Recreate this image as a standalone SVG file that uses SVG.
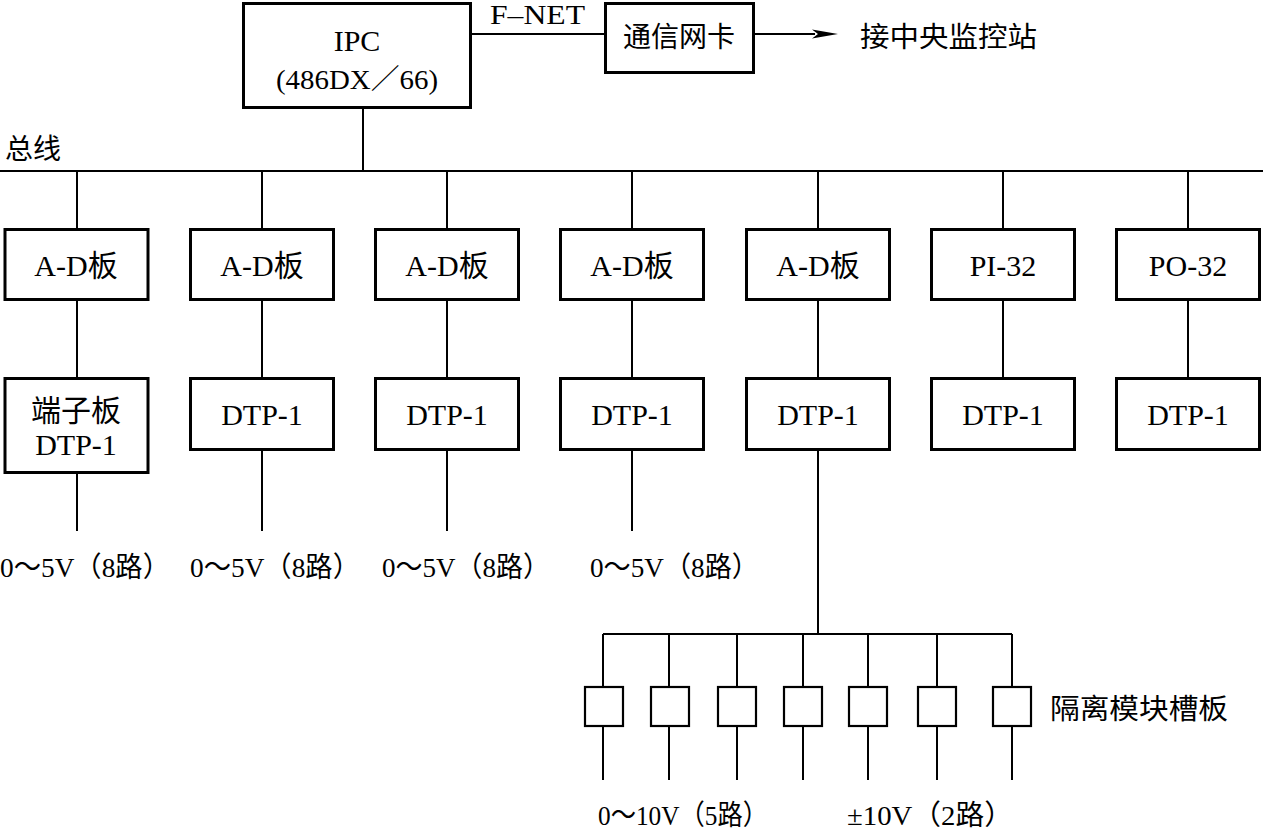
<svg xmlns="http://www.w3.org/2000/svg" width="1263" height="829" viewBox="0 0 1263 829">
<style>
  .box { fill: #fff; stroke: #000; stroke-width: 3; }
  .sbox { fill: #fff; stroke: #000; stroke-width: 2.2; }
  .ln { stroke: #000; stroke-width: 2; fill: none; }
  text { font-family: "Liberation Serif", "Noto Sans CJK SC", serif; font-size: 28px; fill: #000; }
  .c { text-anchor: middle; }
  .b { font-size: 30px; }
</style>
<rect width="1263" height="829" fill="#fff"/>
<g id="connectors">
  <line class="ln" x1="471" y1="34" x2="605" y2="34"/>
  <line class="ln" x1="754" y1="34" x2="815" y2="34"/>
  <polygon points="838,34 812,29.5 818,34 812,38.5" fill="#000"/>
  <line class="ln" x1="363" y1="108" x2="363" y2="171"/>
  <line class="ln" x1="0" y1="171" x2="1263" y2="171"/>
  <line class="ln" x1="77" y1="171" x2="77" y2="229"/>
  <line class="ln" x1="262" y1="171" x2="262" y2="229"/>
  <line class="ln" x1="447" y1="171" x2="447" y2="229"/>
  <line class="ln" x1="632" y1="171" x2="632" y2="229"/>
  <line class="ln" x1="818" y1="171" x2="818" y2="229"/>
  <line class="ln" x1="1003" y1="171" x2="1003" y2="229"/>
  <line class="ln" x1="1188" y1="171" x2="1188" y2="229"/>
  <line class="ln" x1="77" y1="300" x2="77" y2="378"/>
  <line class="ln" x1="262" y1="300" x2="262" y2="378"/>
  <line class="ln" x1="447" y1="300" x2="447" y2="378"/>
  <line class="ln" x1="632" y1="300" x2="632" y2="378"/>
  <line class="ln" x1="818" y1="300" x2="818" y2="378"/>
  <line class="ln" x1="1003" y1="300" x2="1003" y2="378"/>
  <line class="ln" x1="1188" y1="300" x2="1188" y2="378"/>
  <line class="ln" x1="77" y1="473" x2="77" y2="531"/>
  <line class="ln" x1="262" y1="450" x2="262" y2="531"/>
  <line class="ln" x1="447" y1="450" x2="447" y2="531"/>
  <line class="ln" x1="632" y1="450" x2="632" y2="531"/>
  <line class="ln" x1="818" y1="450" x2="818" y2="634"/>
  <line class="ln" x1="603" y1="634" x2="1012" y2="634"/>
  <line class="ln" x1="603" y1="634" x2="603" y2="780"/>
  <line class="ln" x1="669" y1="634" x2="669" y2="780"/>
  <line class="ln" x1="737" y1="634" x2="737" y2="780"/>
  <line class="ln" x1="803" y1="634" x2="803" y2="780"/>
  <line class="ln" x1="868" y1="634" x2="868" y2="780"/>
  <line class="ln" x1="937" y1="634" x2="937" y2="780"/>
  <line class="ln" x1="1012" y1="634" x2="1012" y2="780"/>
</g>
<g id="ipc">
  <rect class="box" x="243.5" y="3.5" width="227" height="104"/>
  <text class="c b" x="357" y="51">IPC</text>
  <text class="c" x="357" y="89" textLength="162" lengthAdjust="spacingAndGlyphs" font-size="29">(486DX／66)</text>
</g>
<g id="fnet-label"><text x="490" y="24" textLength="95" lengthAdjust="spacingAndGlyphs">F–NET</text></g>
<g id="netcard">
  <rect class="box" x="605.5" y="3.5" width="148" height="69"/>
  <text class="c" x="679" y="47">通信网卡</text>
</g>
<g id="central-label"><text x="860" y="47" textLength="177" lengthAdjust="spacingAndGlyphs">接中央监控站</text></g>
<g id="bus-label"><text x="5" y="159" font-size="29">总线</text></g>
<g id="ad1"><rect class="box" x="5" y="229.5" width="143" height="70"/><text class="c b" x="76" y="276">A-D板</text></g>
<g id="ad2"><rect class="box" x="190.5" y="229.5" width="143" height="70"/><text class="c b" x="262" y="276">A-D板</text></g>
<g id="ad3"><rect class="box" x="375.5" y="229.5" width="143" height="70"/><text class="c b" x="447" y="276">A-D板</text></g>
<g id="ad4"><rect class="box" x="560.5" y="229.5" width="143" height="70"/><text class="c b" x="632" y="276">A-D板</text></g>
<g id="ad5"><rect class="box" x="746.5" y="229.5" width="143" height="70"/><text class="c b" x="818" y="276">A-D板</text></g>
<g id="pi32"><rect class="box" x="931.5" y="229.5" width="143" height="70"/><text class="c b" x="1003" y="276">PI-32</text></g>
<g id="po32"><rect class="box" x="1116.5" y="229.5" width="143" height="70"/><text class="c b" x="1188" y="276">PO-32</text></g>
<g id="dtp1"><rect class="box" x="5" y="378.5" width="143" height="94"/><text class="c b" x="76" y="421">端子板</text><text class="c b" x="76" y="455">DTP-1</text></g>
<g id="dtp2"><rect class="box" x="190.5" y="378.5" width="143" height="71"/><text class="c b" x="262" y="425">DTP-1</text></g>
<g id="dtp3"><rect class="box" x="375.5" y="378.5" width="143" height="71"/><text class="c b" x="447" y="425">DTP-1</text></g>
<g id="dtp4"><rect class="box" x="560.5" y="378.5" width="143" height="71"/><text class="c b" x="632" y="425">DTP-1</text></g>
<g id="dtp5"><rect class="box" x="746.5" y="378.5" width="143" height="71"/><text class="c b" x="818" y="425">DTP-1</text></g>
<g id="dtp6"><rect class="box" x="931.5" y="378.5" width="143" height="71"/><text class="c b" x="1003" y="425">DTP-1</text></g>
<g id="dtp7"><rect class="box" x="1116.5" y="378.5" width="143" height="71"/><text class="c b" x="1188" y="425">DTP-1</text></g>
<g id="out-labels">
  <text x="0" y="577" textLength="170" lengthAdjust="spacingAndGlyphs">0～5V（8路）</text>
  <text x="190" y="577" textLength="170" lengthAdjust="spacingAndGlyphs">0～5V（8路）</text>
  <text x="382" y="577" textLength="168" lengthAdjust="spacingAndGlyphs">0～5V（8路）</text>
  <text x="590" y="577" textLength="169" lengthAdjust="spacingAndGlyphs">0～5V（8路）</text>
</g>
<g id="iso-modules">
  <rect class="sbox" x="585" y="687" width="38" height="39"/>
  <rect class="sbox" x="651" y="687" width="38" height="39"/>
  <rect class="sbox" x="718" y="687" width="38" height="39"/>
  <rect class="sbox" x="784" y="687" width="38" height="39"/>
  <rect class="sbox" x="849" y="687" width="38" height="39"/>
  <rect class="sbox" x="918" y="687" width="38" height="39"/>
  <rect class="sbox" x="993" y="687" width="38" height="39"/>
</g>
<g id="iso-label"><text x="1050" y="719" textLength="178" lengthAdjust="spacingAndGlyphs">隔离模块槽板</text></g>
<g id="iso-out-labels">
  <text x="598" y="825" textLength="170" lengthAdjust="spacingAndGlyphs">0～10V（5路）</text>
  <text x="847" y="825" textLength="166" lengthAdjust="spacingAndGlyphs">±10V（2路）</text>
</g>
</svg>
